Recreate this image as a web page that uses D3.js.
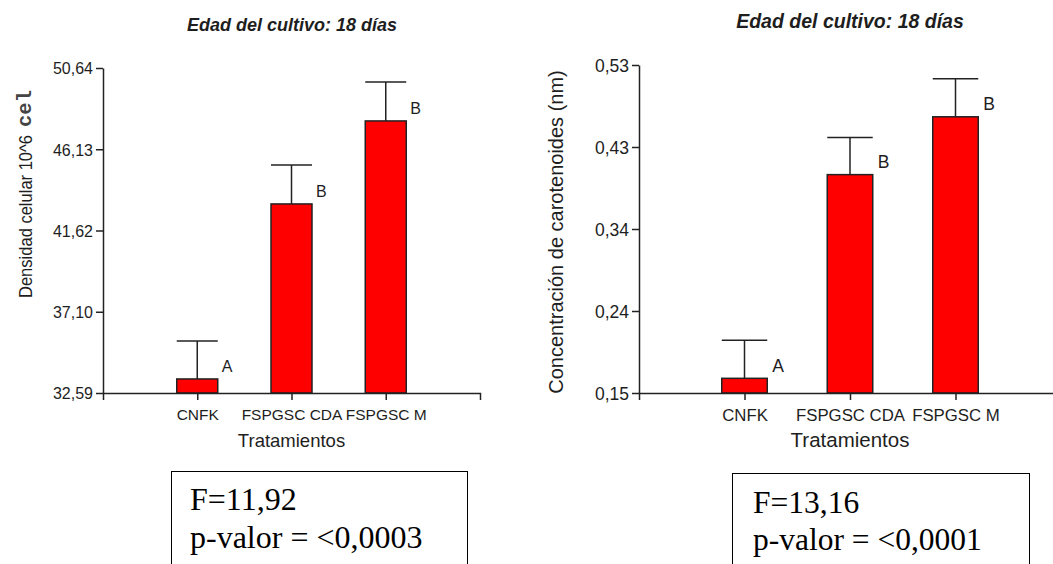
<!DOCTYPE html>
<html>
<head>
<meta charset="utf-8">
<script src="https://cdn.jsdelivr.net/npm/d3@7"></script>
<style>
  body { margin: 0; background: #fff; }
  svg { display: block; }
  text { fill: #1e1e1e; }
</style>
</head>
<body>
<svg id="chart" width="1053" height="564"></svg>
<script>
// datos
const categorias = ["CNFK", "FSPGSC CDA", "FSPGSC M"];
const letras = ["A", "B", "B"];

const densidadMedia = [33.37, 43.09, 47.70];
const densidadError = [2.11, 2.16, 2.16];
const densidadTicks = ["32,59", "37,10", "41,62", "46,13", "50,64"];

const carotenoidesMedia = [0.167, 0.403, 0.470];
const carotenoidesError = [0.044, 0.043, 0.044];
const carotenoidesTicks = ["0,15", "0,24", "0,34", "0,43", "0,53"];

const titulo = "Edad del cultivo: 18 días";
const ejeX = "Tratamientos";

const svg = d3.select("#chart");

// left chart
drawPanel({
    x0: 103, x1: 480, yTop: 68, yBottom: 393,
    domain: [32.59, 50.64],
    media: densidadMedia, error: densidadError, ticks: densidadTicks,
    tickFont: 16, catFont: 15.5, labFont: 18.5,
    titleX: 292, titleY: 31, titleFont: 18,
    barW: 41, letterDx: 4
});
// y label left (con "cel" en negrita aparte)
svg.append("text")
    .attr("transform", "translate(32,298) rotate(-90)")
    .attr("font-family", "Arial, 'Liberation Sans', sans-serif")
    .attr("font-size", 19)
    .attr("textLength", 163)
    .attr("lengthAdjust", "spacingAndGlyphs")
    .text("Densidad celular 10^6");
svg.append("text")
    .attr("transform", "translate(31,127) rotate(-90)")
    .attr("font-family", "'Liberation Mono', 'Courier New', monospace")
    .attr("font-weight", "bold")
    .attr("font-size", 20)
    .attr("textLength", 37)
    .attr("lengthAdjust", "spacingAndGlyphs")
    .style("fill", "#444")
    .text("cel");

// right chart
drawPanel({
    x0: 639, x1: 1061, yTop: 65, yBottom: 393,
    domain: [0.15, 0.53],
    media: carotenoidesMedia, error: carotenoidesError, ticks: carotenoidesTicks,
    tickFont: 17.5, catFont: 16.8, labFont: 20.5,
    titleX: 850, titleY: 28, titleFont: 19.5,
    barW: 45.5, letterDx: 5
});
svg.append("text")
    .attr("transform", "translate(563,232) rotate(-90)")
    .attr("text-anchor", "middle")
    .attr("font-family", "Arial, 'Liberation Sans', sans-serif")
    .attr("font-size", 20)
    .text("Concentración de carotenoides (nm)");

// cajas con estadisticos
statBox(171, 471, 296, "F=11,92", "p-valor = <0,0003", 190, 510, 548, 32);
statBox(732, 473, 297, "F=13,16", "p-valor = <0,0001", 753, 513, 550, 31.5);

function drawPanel(c) {
    const g = svg.append("g");

    const x = d3.scalePoint()
        .domain(categorias)
        .range([c.x0, c.x1])
        .padding(1);

    const y = d3.scaleLinear()
        .domain(c.domain)
        .range([c.yBottom, c.yTop]);

    const tickVals = d3.range(c.ticks.length).map(i =>
        c.domain[0] + i * (c.domain[1] - c.domain[0]) / (c.ticks.length - 1));

    // bars
    g.selectAll("rect.bar")
        .data(c.media)
        .join("rect")
        .attr("class", "bar")
        .attr("x", (d, i) => x(categorias[i]) - c.barW / 2)
        .attr("width", c.barW)
        .attr("y", d => y(d))
        .attr("height", d => y(c.domain[0]) - y(d))
        .attr("fill", "#ff0000")
        .attr("stroke", "#222")
        .attr("stroke-width", 1.5);

    // error bars
    const eb = g.selectAll("g.err")
        .data(c.media)
        .join("g")
        .attr("class", "err");
    eb.append("line")
        .attr("x1", (d, i) => x(categorias[i]))
        .attr("x2", (d, i) => x(categorias[i]))
        .attr("y1", d => y(d))
        .attr("y2", (d, i) => y(d + c.error[i]));
    eb.append("line")
        .attr("x1", (d, i) => x(categorias[i]) - c.barW / 2)
        .attr("x2", (d, i) => x(categorias[i]) + c.barW / 2)
        .attr("y1", (d, i) => y(d + c.error[i]))
        .attr("y2", (d, i) => y(d + c.error[i]));
    eb.selectAll("line")
        .attr("stroke", "#222")
        .attr("stroke-width", 1.5);

    // letters
    g.selectAll("text.letra")
        .data(c.media)
        .join("text")
        .attr("class", "letra")
        .attr("x", (d, i) => x(categorias[i]) + c.barW / 2 + c.letterDx)
        .attr("y", d => y(d) - 6.5)
        .attr("font-family", "Arial, 'Liberation Sans', sans-serif")
        .attr("font-size", c.tickFont)
        .text((d, i) => letras[i]);

    // axes
    const yAxis = g.append("g")
        .attr("transform", `translate(${c.x0},0)`)
        .call(d3.axisLeft(y)
            .tickValues(tickVals)
            .tickFormat((d, i) => c.ticks[i])
            .tickSize(7)
            .tickSizeOuter(0)
            .tickPadding(3));

    const xAxis = g.append("g")
        .attr("transform", `translate(0,${c.yBottom})`)
        .call(d3.axisBottom(x)
            .tickSize(7)
            .tickSizeOuter(7)
            .tickPadding(9));

    [yAxis, xAxis].forEach(a => {
        a.selectAll("path, line").attr("stroke", "#222").attr("stroke-width", 1.5);
        a.selectAll("text")
            .attr("font-family", "Arial, 'Liberation Sans', sans-serif")
            .attr("fill", "#1e1e1e");
    });
    yAxis.selectAll("text").attr("font-size", c.tickFont).attr("dy", "0.36em");
    xAxis.selectAll("text").attr("font-size", c.catFont);

    // axis title
    g.append("text")
        .attr("x", (c.x0 + (c.x1 - c.x0) / 2))
        .attr("y", 447)
        .attr("text-anchor", "middle")
        .attr("font-family", "Arial, 'Liberation Sans', sans-serif")
        .attr("font-size", c.labFont)
        .text(ejeX);

    // title
    g.append("text")
        .attr("x", c.titleX)
        .attr("y", c.titleY)
        .attr("text-anchor", "middle")
        .attr("font-family", "Arial, 'Liberation Sans', sans-serif")
        .attr("font-weight", "bold")
        .attr("font-style", "italic")
        .attr("font-size", c.titleFont)
        .text(titulo);
}

function statBox(bx, by, bw, l1, l2, tx, y1, y2, fs) {
    svg.append("rect")
        .attr("x", bx + 0.5)
        .attr("y", by + 0.5)
        .attr("width", bw)
        .attr("height", 140)
        .attr("fill", "none")
        .attr("stroke", "#000")
        .attr("stroke-width", 1);
    [[l1, y1], [l2, y2]].forEach(([t, yy]) => {
        svg.append("text")
            .attr("x", tx)
            .attr("y", yy)
            .attr("font-family", "'Times New Roman', 'Liberation Serif', serif")
            .attr("font-size", fs)
            .style("fill", "#000")
            .text(t);
    });
}
</script>
</body>
</html>
